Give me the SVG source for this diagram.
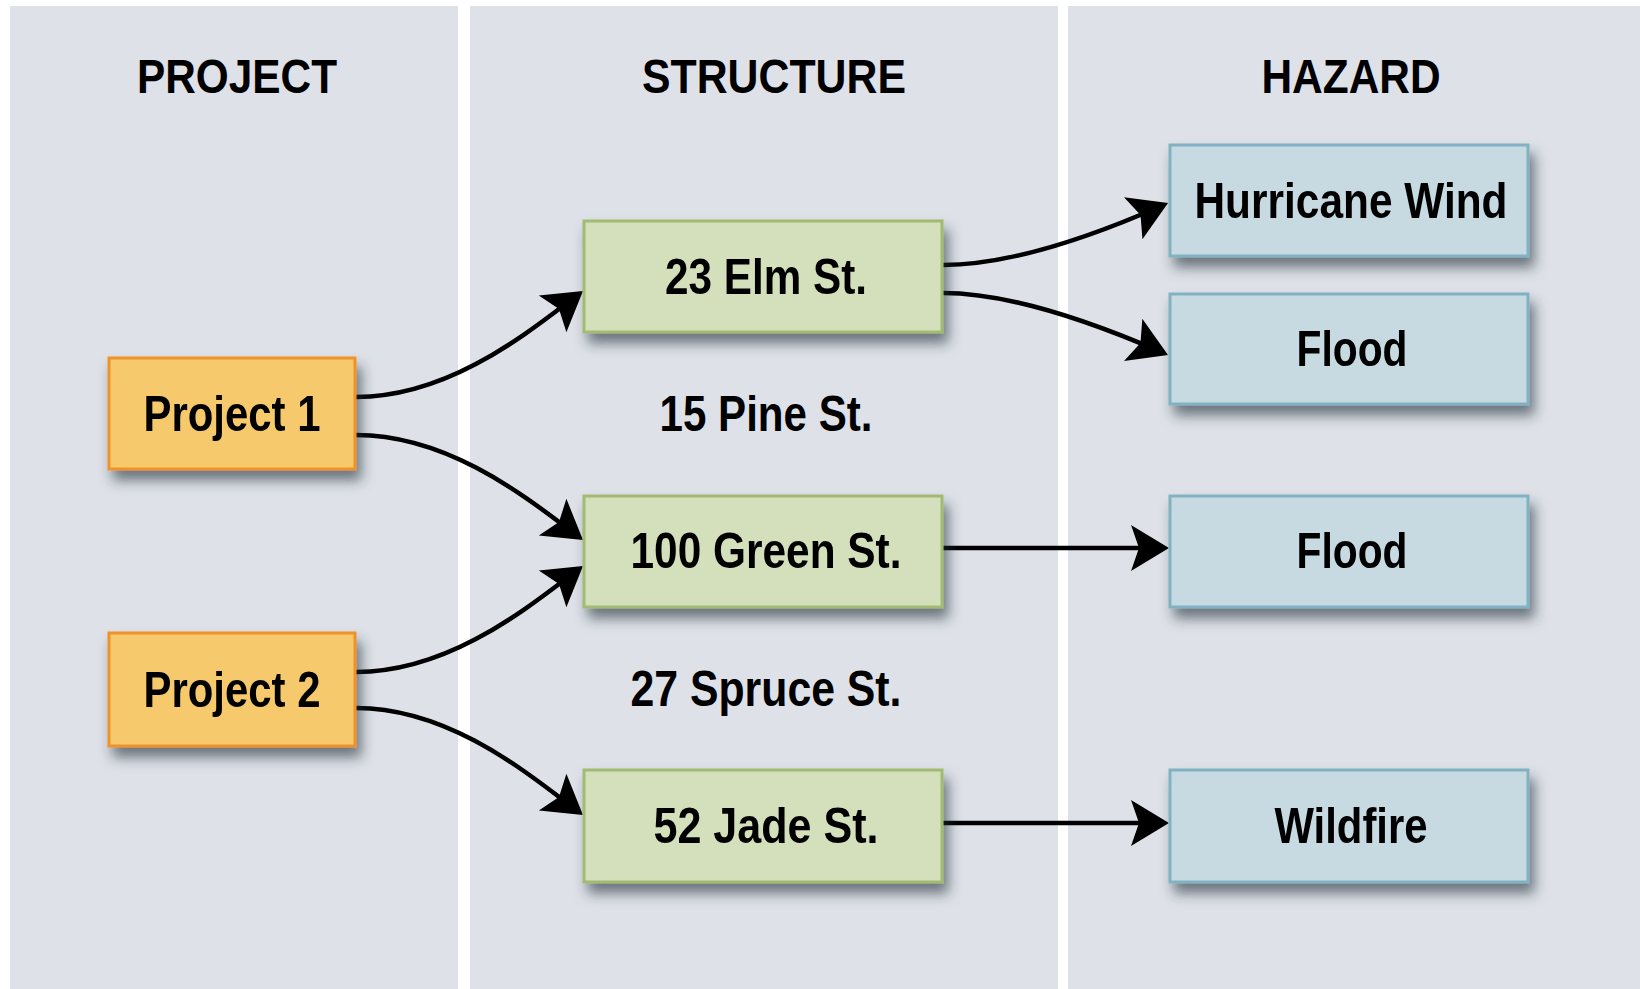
<svg xmlns="http://www.w3.org/2000/svg" width="1640" height="989" viewBox="0 0 1640 989">
  <style>
    .panel { fill: #dee2e8; }
    .hdr { font-family: "Liberation Sans", Arial, sans-serif; font-weight: bold; font-size: 48px; fill: #000; text-anchor: middle; }
    .lbl { font-family: "Liberation Sans", Arial, sans-serif; font-weight: bold; font-size: 50px; fill: #000; text-anchor: middle; }
    .proj { fill: #f6c96c; stroke: #f0922c; stroke-width: 3; }
    .struct { fill: #d4e0bb; stroke: #a2ba72; stroke-width: 3; }
    .haz { fill: #c7dae2; stroke: #80b2c2; stroke-width: 3; }
    .conn { fill: none; stroke: #000; stroke-width: 4.5; marker-end: url(#arrow); }
  </style>
  <defs>
    <filter id="shadow" x="-15%" y="-30%" width="140%" height="180%">
      <feDropShadow dx="5" dy="10" stdDeviation="6.5" flood-color="#26303c" flood-opacity="0.62"/>
    </filter>
    <marker id="arrow" markerUnits="userSpaceOnUse" viewBox="-32 -25 42 50" refX="0" refY="0" markerWidth="42" markerHeight="50" orient="auto">
      <path d="M8,0 L-30,-23 L-22,0 L-30,23 Z" fill="#000"/>
    </marker>
  </defs>

  <rect width="1640" height="989" fill="#ffffff"/>
  <g id="panels">
    <rect class="panel" x="10" y="6" width="448" height="983"/>
    <rect class="panel" x="470" y="6" width="588" height="983"/>
    <rect class="panel" x="1068" y="6" width="572" height="983"/>
  </g>

  <g id="headers">
    <text class="hdr" x="237" y="93" textLength="200" lengthAdjust="spacingAndGlyphs">PROJECT</text>
    <text class="hdr" x="774" y="93" textLength="264" lengthAdjust="spacingAndGlyphs">STRUCTURE</text>
    <text class="hdr" x="1351" y="93" textLength="179" lengthAdjust="spacingAndGlyphs">HAZARD</text>
  </g>

  <g id="connectors">
    <path class="conn" d="M356,397 C450,397 528.6,331.8 576.6,295.8"/>
    <path class="conn" d="M356,435 C450,435 528.6,499.2 576.6,535.2"/>
    <path class="conn" d="M356,672 C450,672 528.6,606.8 576.6,570.8"/>
    <path class="conn" d="M356,708 C450,708 528.6,774.2 576.6,810.2"/>
    <path class="conn" d="M943,265 C1020,265 1115,226.2 1160.7,206.2"/>
    <path class="conn" d="M943,293 C1020,293 1115,332 1160.7,351.8"/>
    <path class="conn" d="M943,548 L1161,548"/>
    <path class="conn" d="M943,823 L1161,823"/>
  </g>

  <g id="project1" filter="url(#shadow)">
    <rect class="proj" x="109" y="358" width="246" height="111"/>
    <text class="lbl" x="232" y="431" textLength="177" lengthAdjust="spacingAndGlyphs">Project 1</text>
  </g>
  <g id="project2" filter="url(#shadow)">
    <rect class="proj" x="109" y="633" width="246" height="113"/>
    <text class="lbl" x="232" y="707" textLength="177" lengthAdjust="spacingAndGlyphs">Project 2</text>
  </g>

  <g id="elm" filter="url(#shadow)">
    <rect class="struct" x="584" y="221" width="358" height="111"/>
    <text class="lbl" x="766" y="294" textLength="202" lengthAdjust="spacingAndGlyphs">23 Elm St.</text>
  </g>
  <g id="pine">
    <text class="lbl" x="766" y="431" textLength="213" lengthAdjust="spacingAndGlyphs">15 Pine St.</text>
  </g>
  <g id="green" filter="url(#shadow)">
    <rect class="struct" x="584" y="496" width="358" height="111"/>
    <text class="lbl" x="766" y="568" textLength="271" lengthAdjust="spacingAndGlyphs">100 Green St.</text>
  </g>
  <g id="spruce">
    <text class="lbl" x="766" y="706" textLength="271" lengthAdjust="spacingAndGlyphs">27 Spruce St.</text>
  </g>
  <g id="jade" filter="url(#shadow)">
    <rect class="struct" x="584" y="770" width="358" height="112"/>
    <text class="lbl" x="766" y="843" textLength="225" lengthAdjust="spacingAndGlyphs">52 Jade St.</text>
  </g>

  <g id="hurricane" filter="url(#shadow)">
    <rect class="haz" x="1170" y="145" width="358" height="111"/>
    <text class="lbl" x="1351" y="218" textLength="313" lengthAdjust="spacingAndGlyphs">Hurricane Wind</text>
  </g>
  <g id="flood1" filter="url(#shadow)">
    <rect class="haz" x="1170" y="294" width="358" height="110"/>
    <text class="lbl" x="1352" y="366" textLength="111" lengthAdjust="spacingAndGlyphs">Flood</text>
  </g>
  <g id="flood2" filter="url(#shadow)">
    <rect class="haz" x="1170" y="496" width="358" height="111"/>
    <text class="lbl" x="1352" y="568" textLength="111" lengthAdjust="spacingAndGlyphs">Flood</text>
  </g>
  <g id="wildfire" filter="url(#shadow)">
    <rect class="haz" x="1170" y="770" width="358" height="112"/>
    <text class="lbl" x="1351" y="843" textLength="153" lengthAdjust="spacingAndGlyphs">Wildfire</text>
  </g>
</svg>
